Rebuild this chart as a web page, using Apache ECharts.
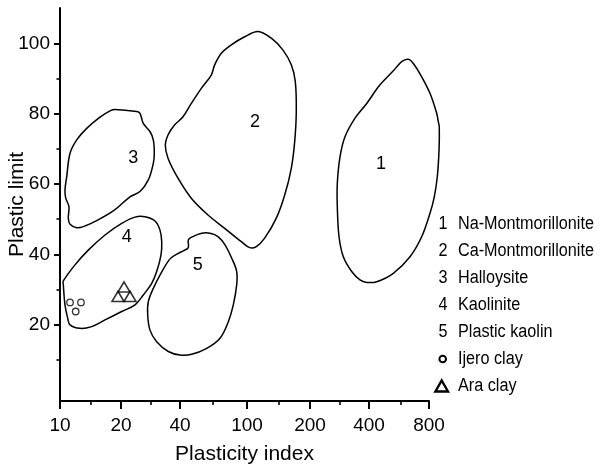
<!DOCTYPE html>
<html>
<head>
<meta charset="utf-8">
<script src="https://cdn.jsdelivr.net/npm/echarts@6/dist/echarts.min.js"></script>
<style>
html,body{margin:0;padding:0;background:#fff;}
#chart{width:600px;height:468px;}
</style>
</head>
<body>
<div id="chart"></div>
<script>
// ---- axis ticks ----
const xTickLabels = ['10', '20', '40', '100', '200', '400', '800'];
const xTickPos = [0, 0.992, 1.951, 3.041, 4.065, 5.024, 6];
const xMinorPos = [0.504, 1.48, 2.483, 3.561, 4.553, 5.54];
const yTickValues = [20, 40, 60, 80, 100];
const yMinorValues = [10, 30, 50, 70, 90];

// ---- regions (x in axis units: 10→0 ... 800→6; y = plastic limit) ----
const regionNumbers = ['1', '2', '3', '4', '5'];
const regionNames = ['Na-Montmorillonite', 'Ca-Montmorillonite', 'Halloysite', 'Kaolinite', 'Plastic kaolin'];

const naMontmorillonite = [
  [5.663, 95.6], [5.745, 94.4], [5.881, 90.6], [6.016, 85.9], [6.125, 80.2], [6.151, 77.8],
  [6.167, 76.4], [6.163, 69.7], [6.135, 62.1], [6.086, 56.4], [6.016, 51.7], [5.881, 45.0],
  [5.691, 39.3], [5.420, 34.6], [5.150, 32.2], [4.987, 32.0], [4.878, 32.7], [4.743, 35.1],
  [4.607, 39.3], [4.537, 45.0], [4.509, 53.6], [4.509, 60.2], [4.553, 67.8], [4.634, 73.5],
  [4.797, 78.8], [4.987, 83.0], [5.203, 88.3], [5.420, 92.3], [5.556, 94.9]
];
const caMontmorillonite = [
  [3.220, 103.5], [3.436, 101.6], [3.626, 98.2], [3.761, 94.0], [3.826, 89.2], [3.842, 80.7],
  [3.816, 72.1], [3.761, 64.5], [3.654, 56.9], [3.517, 50.3], [3.328, 44.6], [3.192, 42.2],
  [3.085, 41.9], [2.948, 43.6], [2.678, 47.4], [2.407, 51.2], [2.135, 56.0], [1.919, 61.7],
  [1.756, 67.4], [1.712, 71.2], [1.756, 74.0], [1.865, 76.9], [2.000, 79.2], [2.135, 83.0],
  [2.298, 87.3], [2.460, 91.1], [2.515, 94.0], [2.623, 97.3], [2.785, 99.7], [3.003, 102.0]
];
const halloysite = [
  [0.894, 81.3], [1.247, 80.7], [1.301, 80.2], [1.354, 77.3], [1.463, 75.0], [1.517, 72.6],
  [1.533, 68.8], [1.517, 65.9], [1.436, 61.2], [1.301, 57.9], [1.138, 56.4], [0.878, 52.5],
  [0.597, 49.6], [0.379, 47.9], [0.272, 47.6], [0.163, 48.6], [0.135, 50.3], [0.146, 53.6],
  [0.093, 56.0], [0.081, 58.3], [0.109, 62.1], [0.163, 68.8], [0.272, 72.6], [0.434, 75.9],
  [0.650, 79.1], [0.813, 80.9]
];
const kaolinite = [
  [1.382, 50.7], [1.545, 49.5], [1.626, 46.9], [1.654, 43.6], [1.642, 39.8], [1.572, 35.1],
  [1.491, 31.7], [1.354, 28.4], [1.220, 25.6], [1.003, 23.7], [0.732, 21.3], [0.515, 19.4],
  [0.325, 18.9], [0.163, 19.9], [0.125, 21.8], [0.081, 25.6], [0.054, 31.3], [0.054, 32.4],
  [0.244, 37.0], [0.460, 41.2], [0.732, 45.5], [1.003, 48.8], [1.220, 50.6]
];
const plasticKaolin = [
  [2.086, 41.9], [2.086, 44.1], [2.141, 44.9], [2.304, 46.0], [2.439, 46.0], [2.574, 45.0],
  [2.683, 42.7], [2.792, 38.9], [2.873, 35.1], [2.873, 31.3], [2.818, 25.6], [2.737, 20.8],
  [2.602, 16.1], [2.385, 13.2], [2.141, 11.5], [1.951, 11.3], [1.761, 12.3], [1.572, 15.1],
  [1.463, 18.4], [1.426, 22.7], [1.436, 26.5], [1.517, 30.3], [1.626, 34.1], [1.789, 38.7],
  [1.924, 40.3], [2.005, 41.0]
];
const regions = [naMontmorillonite, caMontmorillonite, halloysite, kaolinite, plasticKaolin];
const regionLabelPos = [[5.220, 65.7], [3.171, 77.8], [1.192, 67.5], [1.085, 44.9], [2.239, 37.0]];

// ---- samples ----
const ijeroClay = [[0.163, 26.3], [0.341, 26.3], [0.255, 23.7]];
const araClay = [[1.041, 30.7], [0.943, 28.0], [1.138, 28.0]];

const FONT = "'Liberation Sans', Arial, sans-serif";

const chart = echarts.init(document.getElementById('chart'), null, {renderer: 'canvas'});

function tickLabel(v) {
  let best = 0;
  for (let i = 1; i < xTickPos.length; i++) {
    if (Math.abs(xTickPos[i] - v) < Math.abs(xTickPos[best] - v)) best = i;
  }
  return xTickLabels[best];
}

const legendTop = 224, legendStep = 27.0;
const LFONT = '18px ' + FONT;
const LSCALE = 0.9;
const graphics = [];
regionNames.forEach((name, i) => {
  const y = legendTop + i * legendStep;
  graphics.push({type: 'text', x: 443, y: y, scaleX: LSCALE, style: {text: regionNumbers[i], font: LFONT, fill: '#000', textAlign: 'center', textVerticalAlign: 'middle'}});
  graphics.push({type: 'text', x: 458, y: y, scaleX: LSCALE, style: {text: name, font: LFONT, fill: '#000', textAlign: 'left', textVerticalAlign: 'middle'}});
});
const yIj = legendTop + 5 * legendStep;
const yAra = legendTop + 6 * legendStep;
graphics.push({type: 'circle', shape: {cx: 442.7, cy: yIj, r: 3.3}, style: {fill: '#fff', stroke: '#000', lineWidth: 2}});
graphics.push({type: 'text', x: 458, y: yIj, scaleX: LSCALE, style: {text: 'Ijero clay', font: LFONT, fill: '#000', textAlign: 'left', textVerticalAlign: 'middle'}});
graphics.push({type: 'polygon', shape: {points: [[441.7, yAra - 5.5], [448, yAra + 5.5], [435.4, yAra + 5.5]]}, style: {fill: 'none', stroke: '#000', lineWidth: 2.4}});
graphics.push({type: 'text', x: 458, y: yAra, scaleX: LSCALE, style: {text: 'Ara clay', font: LFONT, fill: '#000', textAlign: 'left', textVerticalAlign: 'middle'}});

const option = {
  animation: false,
  backgroundColor: '#fff',
  grid: {left: 60, right: 171, top: 8, bottom: 67, containLabel: false, outerBoundsMode: 'none'},
  xAxis: [{
    type: 'value', min: 0, max: 6,
    name: 'Plasticity index', nameLocation: 'middle', nameGap: 43, nameMoveOverlap: false,
    nameTextStyle: {fontFamily: FONT, fontSize: 21, color: '#000'},
    axisLine: {show: true, onZero: false, lineStyle: {color: '#000', width: 2}},
    axisTick: {show: true, customValues: xTickPos, length: 8, lineStyle: {color: '#000', width: 2}},
    axisLabel: {show: true, customValues: xTickPos, formatter: tickLabel, margin: 15, fontFamily: FONT, fontSize: 19, color: '#000'},
    splitLine: {show: false}
  }, {
    type: 'value', min: 0, max: 6, position: 'bottom',
    axisLine: {show: false, onZero: false},
    axisTick: {show: true, customValues: xMinorPos, length: 4, lineStyle: {color: '#000', width: 1.6}},
    axisLabel: {show: false},
    splitLine: {show: false}
  }],
  yAxis: [{
    type: 'value', min: -1.8, max: 110.2,
    name: 'Plastic limit', nameLocation: 'middle', nameGap: 32, nameMoveOverlap: false,
    nameTextStyle: {fontFamily: FONT, fontSize: 21, color: '#000'},
    axisLine: {show: true, onZero: false, lineStyle: {color: '#000', width: 2}},
    axisTick: {show: true, customValues: yTickValues, length: 6, lineStyle: {color: '#000', width: 2}},
    axisLabel: {show: true, customValues: yTickValues, margin: 10, fontFamily: FONT, fontSize: 19, color: '#000'},
    splitLine: {show: false}
  }, {
    type: 'value', min: -1.8, max: 110.2, position: 'left',
    axisLine: {show: false, onZero: false},
    axisTick: {show: true, customValues: yMinorValues, length: 3.5, lineStyle: {color: '#000', width: 1.6}},
    axisLabel: {show: false},
    splitLine: {show: false}
  }],
  series: [
    {
      type: 'custom',
      name: 'regions',
      clip: false,
      data: regions.map((r, i) => [i, 0]),
      renderItem: function (params, api) {
        const pts = regions[params.dataIndex].map(p => api.coord(p));
        return {
          type: 'polygon',
          shape: {points: pts, smooth: 0.35},
          style: {fill: 'none', stroke: '#000', lineWidth: 1.5}
        };
      },
      silent: true
    },
    {
      type: 'custom',
      name: 'region labels',
      clip: false,
      data: regionLabelPos,
      renderItem: function (params, api) {
        const c = api.coord([api.value(0), api.value(1)]);
        return {
          type: 'text',
          x: c[0], y: c[1],
          style: {
            text: regionNumbers[params.dataIndex],
            font: '18px ' + FONT, fill: '#000',
            textAlign: 'center', textVerticalAlign: 'middle'
          }
        };
      },
      silent: true
    },
    {
      type: 'scatter',
      name: 'Ijero clay',
      data: ijeroClay,
      symbol: 'circle',
      symbolSize: 6.5,
      itemStyle: {color: '#fff', borderColor: '#000', borderWidth: 1.3}
    },
    {
      type: 'scatter',
      name: 'Ara clay',
      data: araClay,
      symbol: 'triangle',
      symbolSize: [12, 10],
      itemStyle: {color: 'rgba(0,0,0,0)', borderColor: '#000', borderWidth: 1.6}
    }
  ],
  graphic: graphics
};
chart.setOption(option);
</script>
</body>
</html>
